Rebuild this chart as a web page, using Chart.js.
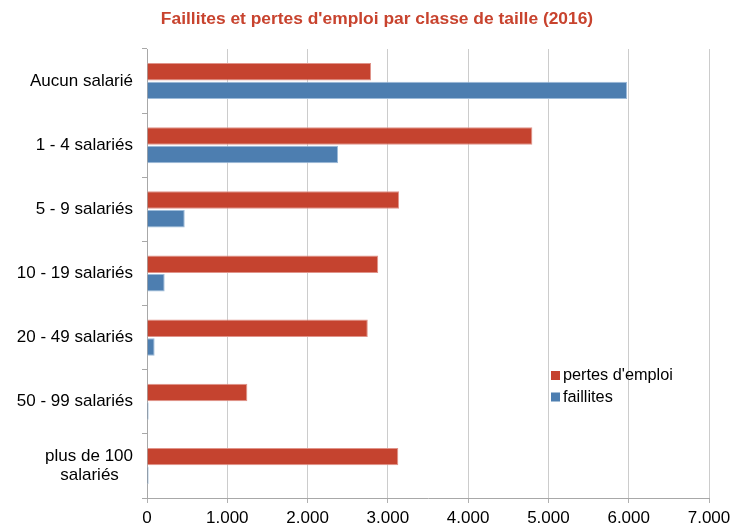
<!DOCTYPE html>
<html>
<head>
<meta charset="utf-8">
<script src="https://cdn.jsdelivr.net/npm/chart.js@4"></script>
<style>
  html, body { margin: 0; padding: 0; background: #ffffff; }
  #wrap { width: 730px; height: 529px; }
</style>
</head>
<body>
<div id="wrap"><canvas id="c" width="730" height="529"></canvas></div>
<script>
const categories = [
  'Aucun salarié',
  '1 - 4 salariés',
  '5 - 9 salariés',
  '10 - 19 salariés',
  '20 - 49 salariés',
  '50 - 99 salariés',
  ['plus de 100', 'salariés   ']
];
const pertesEmploi = [2790, 4800, 3140, 2880, 2750, 1250, 3130];
const faillites = [5980, 2380, 470, 220, 95, 20, 20];
const xTicks = [0, 1000, 2000, 3000, 4000, 5000, 6000, 7000];
const seriesNames = ["pertes d'emploi", 'faillites'];
const chartTitle = "Faillites et pertes d'emploi par classe de taille (2016)";

const FONT = "'Liberation Sans', Arial, Helvetica, sans-serif";
const RED = '#c5432f';
const BLUE = '#4d7eb0';

const titleAndLegend = {
  id: 'titleAndLegend',
  afterDraw(chart) {
    const ctx = chart.ctx;
    const a = chart.chartArea;
    ctx.save();
    // title
    ctx.font = 'bold 17.4px ' + FONT;
    ctx.fillStyle = '#c8432e';
    ctx.textAlign = 'center';
    ctx.textBaseline = 'middle';
    ctx.fillText(chartTitle, 377, 19);
    // legend inside plot
    const x0 = a.left + 404;
    const y0 = a.top + 322;
    ctx.font = '16.3px ' + FONT;
    ctx.textAlign = 'left';
    chart.data.datasets.forEach((ds, i) => {
      const y = y0 + i * 21.5;
      ctx.fillStyle = ds.backgroundColor;
      ctx.fillRect(x0, y, 9, 9);
      ctx.fillStyle = '#000000';
      ctx.fillText(ds.label, x0 + 12, y + 5);
    });
    ctx.restore();
  }
};

new Chart(document.getElementById('c'), {
  type: 'bar',
  data: {
    labels: categories,
    datasets: [
      {
        label: seriesNames[0],
        data: pertesEmploi,
        backgroundColor: RED,
        borderColor: '#e0948a',
        borderWidth: 1,
        categoryPercentage: 0.58,
        barPercentage: 0.94
      },
      {
        label: seriesNames[1],
        data: faillites,
        backgroundColor: BLUE,
        borderColor: '#9dbbd9',
        borderWidth: 1,
        categoryPercentage: 0.58,
        barPercentage: 0.94
      }
    ]
  },
  options: {
    indexAxis: 'y',
    responsive: false,
    animation: false,
    devicePixelRatio: 1,
    layout: { padding: { left: 0, right: 0, top: 49, bottom: 0 } },
    plugins: {
      legend: { display: false },
      tooltip: { enabled: false },
      title: { display: false }
    },
    scales: {
      x: {
        min: 0,
        max: 7000,
        afterBuildTicks(scale) {
          scale.ticks = xTicks.map(v => ({ value: v }));
        },
        afterFit(scale) {
          scale.height = 31;
          scale.paddingRight = 21;
        },
        ticks: {
          color: '#000000',
          font: { family: FONT, size: 17 },
          padding: 5,
          maxRotation: 0,
          callback: v => v.toLocaleString('de-DE')
        },
        grid: {
          color: '#cccccc',
          lineWidth: 1,
          tickLength: 5,
          tickColor: '#b0b0b0'
        },
        border: { color: '#a8a8a8', width: 1 }
      },
      y: {
        afterFit(scale) { scale.width = 147; },
        ticks: {
          color: '#000000',
          font: { family: FONT, size: 17, lineHeight: 1.15 },
          padding: 9
        },
        grid: {
          display: true,
          drawOnChartArea: false,
          offset: true,
          tickLength: 5,
          color: '#a8a8a8'
        },
        border: { color: '#a8a8a8', width: 1 }
      }
    }
  },
  plugins: [titleAndLegend]
});
</script>
</body>
</html>
